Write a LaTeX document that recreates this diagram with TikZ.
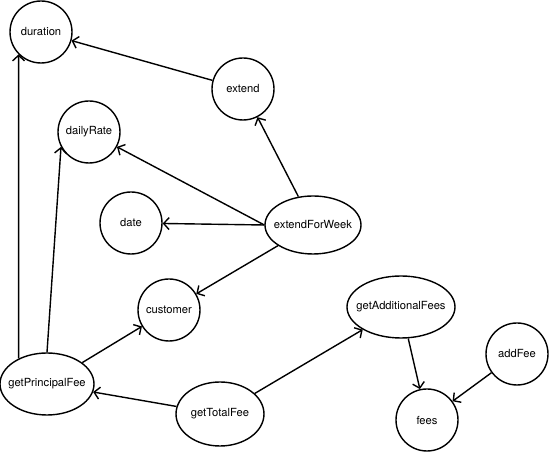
\documentclass[tikz,border=0pt]{standalone}
\usepackage{fontspec}
\setmainfont{TeX Gyre Heros}
\usetikzlibrary{arrows.meta,shapes.geometric}

\begin{document}
\begin{tikzpicture}[x=50pt, y=50pt, >={Straight Barb[length=5.5pt,width=12pt]},
    member/.style={draw, circle, line width=1.4pt, minimum size=62pt, inner sep=0pt,
        font=\fontsize{11.2}{13}\selectfont},
    method/.style={draw, ellipse, line width=1.4pt, inner xsep=-30pt, inner ysep=0pt,
        font=\fontsize{11.2}{13}\selectfont},
    uses/.style={->, line width=1.4pt}]
        \useasboundingbox (0,0) rectangle (11,9.04);

        % Fields
        \node[member] (duration) at (0.82,8.40) {duration};
        \node[member] (dailyRate) at (1.78,6.40) {dailyRate};
        \node[member] (date) at (2.62,4.58) {date};
        \node[member] (customer) at (3.38,2.84) {customer};
        \node[member] (fees) at (8.54,0.64) {fees};

        % Methods
        \node[member] (extend) at (4.86,7.26) {extend};
        \node[member] (addFee) at (10.34,1.96) {addFee};
        \node[method, minimum width=96pt, minimum height=58pt] (extendForWeek) at (6.26,4.54) {extendForWeek};
        \node[method, minimum width=94pt, minimum height=62pt] (getPrincipalFee) at (0.94,1.36) {getPrincipalFee};
        \node[method, minimum width=88pt, minimum height=64pt] (getTotalFee) at (4.40,0.76) {getTotalFee};
        \node[method, minimum width=108pt, minimum height=62pt] (getAdditionalFees) at (8.02,2.90) {getAdditionalFees};

        % Edges
        \draw[uses] (extend) -- (duration);
        \draw[uses] (extendForWeek) -- (extend);
        \draw[uses] (extendForWeek.west) -- (dailyRate);
        \draw[uses] (extendForWeek.west) -- (date);
        \draw[uses] (extendForWeek) -- (customer);
        \draw[uses] (getPrincipalFee.138) -- (duration.225);
        \draw[uses] (getPrincipalFee.north) -- (dailyRate.208);
        \draw[uses] (getPrincipalFee) -- (customer);
        \draw[uses] (getTotalFee) -- (getPrincipalFee);
        \draw[uses] (getTotalFee) -- (getAdditionalFees);
        \draw[uses] (getAdditionalFees) -- (fees);
        \draw[uses] (addFee) -- (fees);
    \end{tikzpicture}
\end{document}
